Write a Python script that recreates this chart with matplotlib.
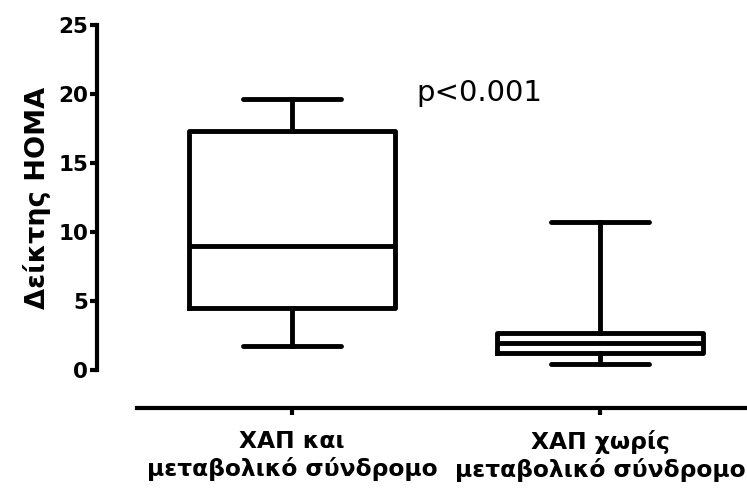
import matplotlib
matplotlib.use("Agg")
import matplotlib.pyplot as plt

plt.rcParams['font.family'] = ['DejaVu Sans']

# box plot summary
categories = ["ΧΑΠ και\nμεταβολικό σύνδρομο", "ΧΑΠ χωρίς\nμεταβολικό σύνδρομο"]
whislo = [1.75, 0.42]
q1 = [4.5, 1.21]
med = [9.0, 1.98]
q3 = [17.3, 2.66]
whishi = [19.65, 10.7]
yticks = [0, 5, 10, 15, 20, 25]

stats = []
for i in range(len(categories)):
    stats.append(dict(whislo=whislo[i], q1=q1[i], med=med[i], q3=q3[i],
                      whishi=whishi[i], fliers=[], label=categories[i]))

fig = plt.figure(figsize=(7.47, 4.88), dpi=100)
ax = fig.add_axes([97/747, 1 - 408/488, 1 - 97/747, (408 - 25)/488])

lw = 3.5
ax.bxp(stats, positions=[1, 2], widths=0.67, capwidths=0.32, showfliers=False,
       boxprops=dict(color='black', linewidth=lw, solid_joinstyle='round'),
       whiskerprops=dict(color='black', linewidth=lw),
       capprops=dict(color='black', linewidth=lw, solid_capstyle='round'),
       medianprops=dict(color='black', linewidth=lw))

ax.set_xlim(0.367, 2.477)
ax.set_ylim(-2.75, 25)

for s in ['top', 'right']:
    ax.spines[s].set_visible(False)
ax.spines['left'].set_linewidth(3)
ax.spines['bottom'].set_linewidth(3)
ax.spines['left'].set_bounds(0, 25)
ax.spines['bottom'].set_bounds(0.497, 2.47)

ax.set_yticks(yticks)
ax.set_yticklabels([str(t) for t in yticks], fontsize=15.5, fontweight='bold')
ax.set_xticks([1, 2])
ax.set_xticklabels(categories, fontsize=16.8, fontweight='bold', linespacing=1.2)
ax.tick_params(axis='y', length=5, width=3, pad=1.5)
ax.tick_params(axis='x', length=5, width=3, pad=11)

ax.set_ylabel("Δείκτης HOMA", fontsize=19.5, fontweight='bold')
ax.yaxis.set_label_coords(-0.071, (12.5 + 2.75) / 27.75)

ax.text(1.405, 20.1, "p<0.001", fontsize=21, ha='left', va='center')

fig.savefig("out.png", dpi=100)
